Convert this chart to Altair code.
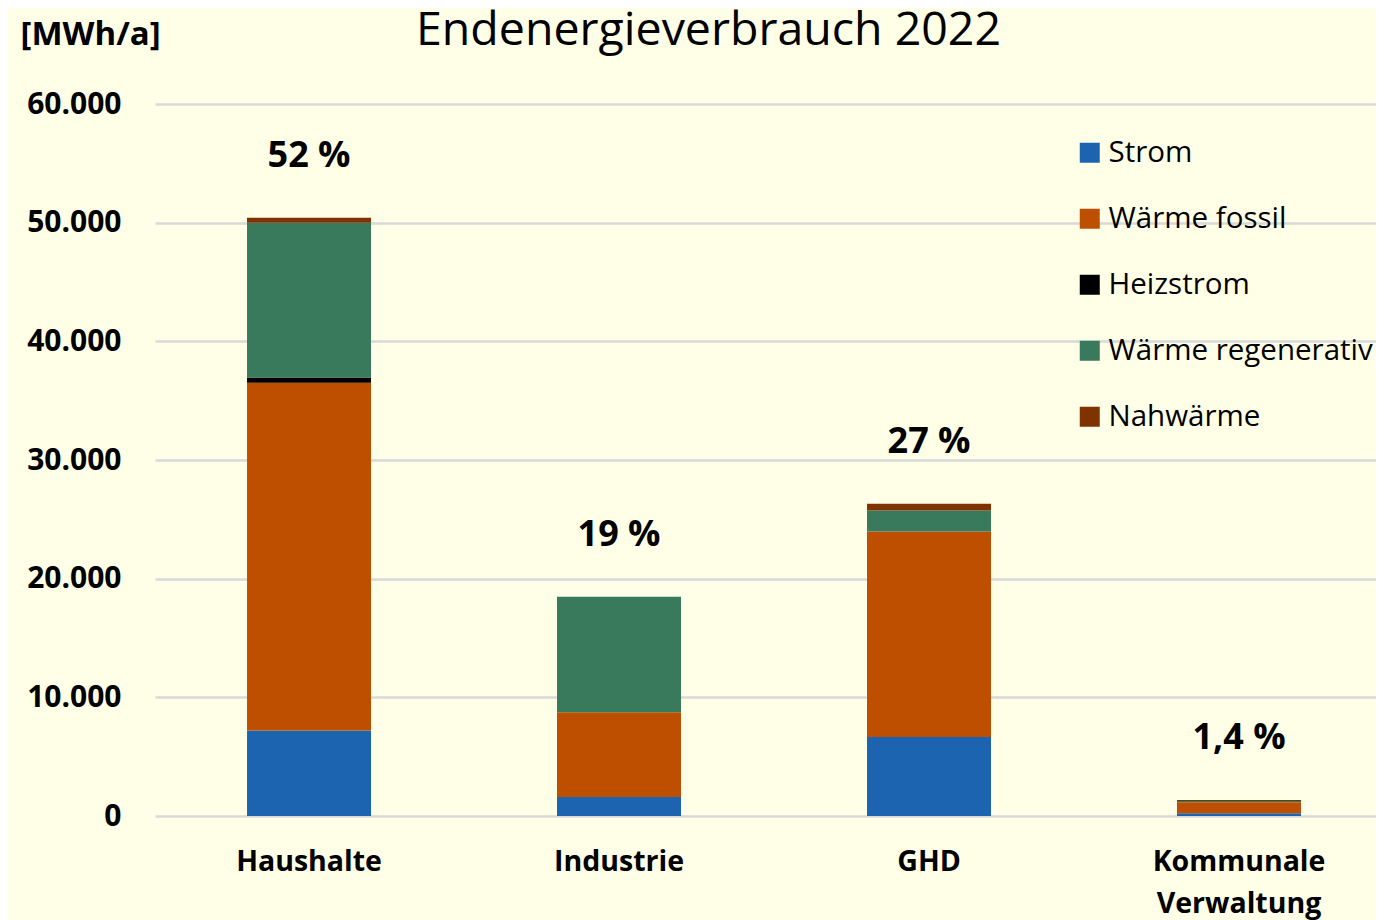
import altair as alt
import pandas as pd

categories = ["Haushalte", "Industrie", "GHD", "Kommunale Verwaltung"]
series = ["Strom", "Wärme fossil", "Heizstrom", "Wärme regenerativ", "Nahwärme"]
colors = ["#1C64AF", "#BF4F00", "#000000", "#387A5B", "#7E3300"]

strom = [7200, 1600, 6650, 230]
waerme_fossil = [29300, 7150, 17330, 930]
heizstrom = [450, 0, 0, 0]
waerme_regenerativ = [13050, 9720, 1770, 100]
nahwaerme = [420, 0, 560, 80]
shares = ["52 %", "19 %", "27 %", "1,4 %"]

values = [strom, waerme_fossil, heizstrom, waerme_regenerativ, nahwaerme]
rows = []
for si, (s, vals) in enumerate(zip(series, values)):
    for c, v in zip(categories, vals):
        rows.append({"Sektor": c, "Art": s, "Wert": v, "ord": si})
df = pd.DataFrame(rows)

totals = [sum(v[i] for v in values) for i in range(len(categories))]
df_lab = pd.DataFrame({"Sektor": categories, "Summe": totals, "Anteil": shares})

FONT = "Open Sans"

xscale = alt.Scale(domain=categories, paddingInner=0.6, paddingOuter=0.2694, align=0.551)
yscale = alt.Scale(domain=[0, 60000])

bars = alt.Chart(df).mark_bar().encode(
    x=alt.X("Sektor:N", scale=xscale, sort=categories,
            axis=alt.Axis(title=None, labelAngle=0, labelFontSize=28.5, labelFontWeight="bold",
                          labelFont=FONT, labelColor="black", ticks=False, domain=False,
                          labelPadding=31, labelLineHeight=42,
                          labelExpr="split(datum.label, ' ')")),
    y=alt.Y("Wert:Q", scale=yscale, stack="zero",
            axis=alt.Axis(title="[MWh/a]", titleAngle=0, titleAlign="left",
                          titleBaseline="alphabetic", titleX=-135, titleY=-60,
                          titleFontSize=33, titleFontWeight="bold", titleFont=FONT,
                          titleColor="black",
                          values=[0, 10000, 20000, 30000, 40000, 50000, 60000],
                          labelExpr="replace(format(datum.value, ','), ',', '.')",
                          labelFontSize=30, labelFontWeight="bold", labelFont=FONT,
                          labelColor="black", labelPadding=34, ticks=False, domain=False,
                          grid=True, gridColor="#D9D9D9", gridWidth=2.5)),
    color=alt.Color("Art:N", scale=alt.Scale(domain=series, range=colors),
                    legend=alt.Legend(title=None, orient="none", legendX=920, legendY=34,
                                      symbolType="square", symbolSize=400,
                                      symbolStrokeWidth=0, labelFontSize=29.5,
                                      labelFont=FONT, labelColor="black",
                                      rowPadding=35, labelOffset=4,
                                      labelLimit=400)),
    order=alt.Order("ord:Q", sort="ascending"),
)

labels = alt.Chart(df_lab).mark_text(
    font=FONT, fontSize=36, fontWeight="bold", color="black", dy=-62, baseline="middle"
).encode(
    x=alt.X("Sektor:N", scale=xscale, sort=categories),
    y=alt.Y("Summe:Q", scale=yscale),
    text="Anteil:N",
)

chart = alt.layer(bars, labels).properties(
    width=1221, height=712,
    title=alt.TitleParams("Endenergieverbrauch 2022", anchor="start", frame="group",
                          dx=261, dy=73, fontSize=46.5, fontWeight="normal", font=FONT,
                          color="black", baseline="alphabetic", offset=0),
    padding={"left": 147, "top": 96, "right": 0, "bottom": 104},
    autosize=alt.AutoSizeParams(type="none"),
).configure(background="#FFFFE8").configure_view(stroke=None)

chart.save("out.html", embed_options={"renderer": "svg", "actions": False})
